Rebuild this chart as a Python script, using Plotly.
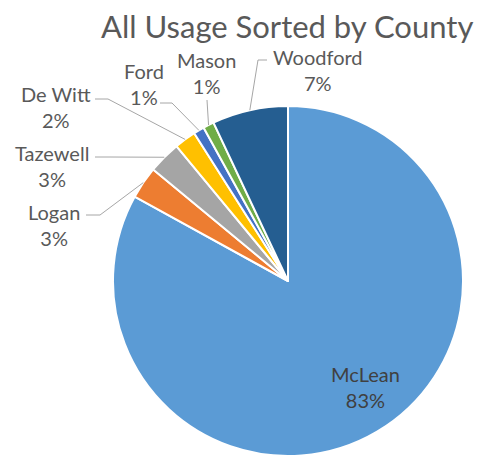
import math
import plotly.graph_objects as go

# data
counties = ["McLean", "Logan", "Tazewell", "De Witt", "Ford", "Mason", "Woodford"]
usage_pct = [83, 3, 3, 2, 1, 1, 7]
colors = ["#5B9BD5", "#ED7D31", "#A5A5A5", "#FFC000", "#4472C4", "#70AD47", "#255E91"]

W, H = 477, 456
# pie geometry in pixels
CX, CY, R = 288, 281, 175

# label placement (pixels): text centre, leader start, leader elbow
label_pos = {
    "McLean": (365, 387),
    "Logan": (54, 225),
    "Tazewell": (52, 166),
    "De Witt": (56, 107),
    "Ford": (144, 84),
    "Mason": (206, 73),
    "Woodford": (318, 70),
}
leader_start = {
    "Logan": (86, 215),
    "Tazewell": (95, 157),
    "De Witt": (95, 99),
    "Ford": (160, 103),
    "Mason": (207, 100),
    "Woodford": (267, 60),
}
leader_elbow = {
    "Logan": (100, 215),
    "Tazewell": (110, 157),
    "De Witt": (108, 99),
    "Ford": (172, 103),
    "Mason": (207, 100),
    "Woodford": (258, 60),
}


def px(x):
    return x / W


def py(y):
    return 1 - y / H


fig = go.Figure()

fig.add_trace(go.Pie(
    labels=counties,
    values=usage_pct,
    sort=False,
    direction="clockwise",
    rotation=0,
    marker=dict(colors=colors, line=dict(color="white", width=2)),
    textinfo="none",
    hoverinfo="label+percent",
    showlegend=False,
    domain=dict(x=[px(CX - R), px(CX + R)], y=[py(CY + R), py(CY - R)]),
))

total = sum(usage_pct)
cum = 0
shapes = []
annotations = []
for name, v in zip(counties, usage_pct):
    mid = (cum + v / 2) / total * 2 * math.pi
    cum += v
    pct = f"{round(v / total * 100)}%"
    lx, ly = label_pos[name]
    annotations.append(dict(
        x=px(lx), y=py(ly), xref="paper", yref="paper",
        xanchor="center", yanchor="middle",
        text=f"{name}<br>{pct}", showarrow=False,
        font=dict(family="Lato, sans-serif", size=20,
                  color="#404040" if name == "McLean" else "#595959"),
    ))
    if name not in leader_start:
        continue
    # slice edge point from the data
    ex = CX + R * math.sin(mid)
    ey = CY - R * math.cos(mid)
    sx, sy = leader_start[name]
    bx, by = leader_elbow[name]
    shapes.append(dict(
        type="path", xref="paper", yref="paper",
        path=f"M {px(sx)},{py(sy)} L {px(bx)},{py(by)} L {px(ex)},{py(ey)}",
        line=dict(color="#A6A6A6", width=1),
    ))

annotations.append(dict(
    x=px(287), y=py(26), xref="paper", yref="paper",
    xanchor="center", yanchor="middle",
    text="All Usage Sorted by County", showarrow=False,
    font=dict(family="Lato, sans-serif", size=31, color="#595959"),
))

fig.update_layout(
    width=W,
    height=H,
    margin=dict(l=0, r=0, t=0, b=0),
    paper_bgcolor="white",
    plot_bgcolor="white",
    shapes=shapes,
    annotations=annotations,
)

fig.write_html("out.html", config={"displayModeBar": False},
               post_script="document.body.style.margin='0';")
